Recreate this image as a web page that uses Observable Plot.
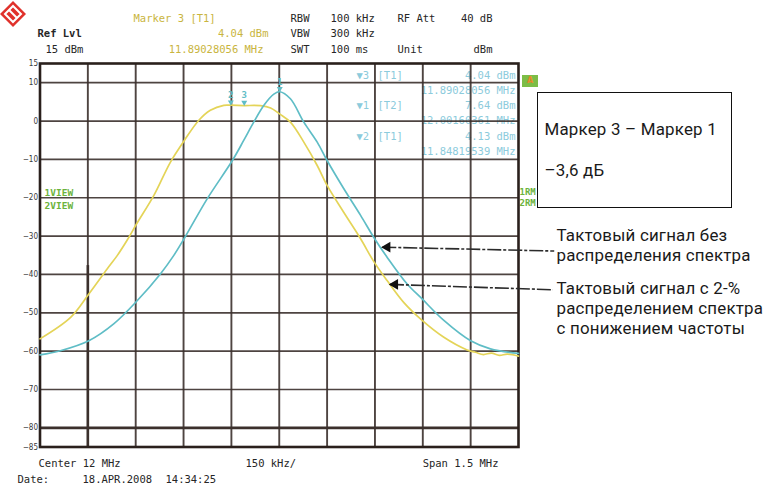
<!DOCTYPE html>
<html><head><meta charset="utf-8">
<script src="https://cdn.jsdelivr.net/npm/d3@7"></script>
<script src="https://cdn.jsdelivr.net/npm/@observablehq/plot@0.6"></script>
<style>
body{margin:0;background:#fff;}
#wrap{position:relative;width:767px;height:484px;overflow:hidden;background:#fff;}
#wrap > svg{position:absolute;left:0;top:0;}
.box{position:absolute;left:537px;top:92px;width:193px;height:114px;border:1.6px solid #111;background:transparent;}
.flag{position:absolute;left:522px;top:75px;width:16px;height:12px;background:#7cbd46;color:#e8892a;font:bold 8px "DejaVu Sans";text-align:center;line-height:12px;}
.logo{position:absolute;left:6px;top:14px;}
</style></head><body><div id="wrap"></div>
<script>
// ---- data (frequency in MHz, level in dBm) ----
const yellowFreq = [11.25, 11.346, 11.403, 11.461, 11.492, 11.523, 11.553, 11.607, 11.659, 11.703, 11.748, 11.784, 11.826, 11.848, 11.889, 11.941, 11.973, 12.002, 12.035, 12.077, 12.119, 12.150, 12.202, 12.255, 12.296, 12.338, 12.390, 12.448, 12.516, 12.589, 12.615, 12.640, 12.665, 12.690, 12.715, 12.75];
const yellowDbm  = [-56.8, -51.2, -45.1, -38.5, -35.1, -31.1, -26.8, -19.4, -10.7, -5.0, 0.2, 2.8, 4.1, 4.13, 4.04, 4.0, 3.4, 1.8, -0.3, -5.5, -11.6, -16.8, -23.8, -30.7, -36.6, -41.6, -47.3, -52.0, -56.4, -59.7, -60.3, -60.9, -60.5, -61.1, -60.8, -61.3];
const cyanFreq = [11.25, 11.314, 11.403, 11.481, 11.553, 11.628, 11.669, 11.703, 11.774, 11.853, 11.889, 11.920, 11.952, 11.983, 12.0016, 12.035, 12.077, 12.119, 12.150, 12.202, 12.255, 12.296, 12.338, 12.401, 12.448, 12.516, 12.600, 12.662, 12.75];
const cyanDbm  = [-61.0, -59.9, -57.3, -52.9, -47.0, -39.8, -35.1, -30.5, -20.3, -10.3, -5.0, -0.3, 4.1, 7.0, 7.64, 5.8, -0.3, -5.5, -10.3, -17.6, -24.6, -30.3, -35.5, -42.5, -46.4, -52.0, -57.3, -59.4, -60.6];

const markerNames = ["1", "2", "3"];
const markerFreq  = [12.0016, 11.8482, 11.8903];
const markerDbm   = [7.64, 4.13, 4.04];

const yTicks = [15, 10, 0, -10, -20, -30, -40, -50, -60, -70, -80, -85];
const hGrid  = [10, 0, -10, -20, -30, -40, -50, -60, -70, -80];
const vGrid  = [11.40, 11.55, 11.70, 11.85, 12.00, 12.15, 12.30, 12.45, 12.60];

// annotation arrows (head -> tail), in chart coordinates
const arrowHeadF  = [12.323, 12.347];
const arrowHeadDb = [-32.9, -42.6];
const arrowTailF  = [12.862, 12.858];
const arrowTailDb = [-33.9, -44.0];

// instrument text
const headerRows = [
  ["Marker 3 [T1]", "RBW", "100 kHz", "RF Att", "40 dB"],
  ["4.04 dBm", "VBW", "300 kHz", "", ""],
  ["11.89028056 MHz", "SWT", "100 ms", "Unit", "dBm"]
];
const tableLeft  = ["\u25BC3", "", "\u25BC1", "", "\u25BC2", ""];
const tableTrace = ["[T1]", "", "[T2]", "", "[T1]", ""];
const tableRight = ["4.04 dBm", "11.89028056 MHz", "7.64 dBm", "12.00160361 MHz", "4.13 dBm", "11.84819539 MHz"];

// annotation texts
const boxLine1 = "Маркер 3 – Маркер 1";
const boxLine2 = "–3,6 дБ";
const note1 = "Тактовый сигнал без\nраспределения спектра";
const note2 = "Тактовый сигнал с 2-%\nраспределением спектра\nс понижением частоты";

const W = 767, H = 484, ML = 39.5, MR = 249, MT = 63, MB = 37.5;
const mono = "DejaVu Sans Mono";
const yellow = "#e4d458", cyan = "#5fbdc6", grid = "#3b302c";
const yel2 = "#c9b53e", cyanTxt = "#8ccbdc", green = "#6cb33c";
const NS = 16.9;

function label(t, x, y, o = {}) {
  return Plot.text([t], {
    text: d => d, frameAnchor: "top-left", dx: x - ML, dy: y - MT,
    textAnchor: o.anchor || "start", lineAnchor: o.line || "middle",
    lineHeight: o.lineHeight || 1,
    fill: o.fill || "#262626", fontSize: o.size || 10.5,
    fontFamily: o.font || mono, fontWeight: o.weight || "normal"
  });
}
const sans = {font: "Roboto", size: NS, line: "top", lineHeight: 20 / NS, fill: "#1a1a1a"};
// with lineAnchor "top", first baseline sits ~0.71em below y
const base = (b) => b - 0.71 * NS;

const rowY = [18, 33.5, 49.5];
const headerMarks = [];
headerRows.forEach((r, i) => {
  if (r[0]) headerMarks.push(label(r[0], i === 0 ? 133 : (i === 1 ? 268 : 263), rowY[i], {fill: yel2, anchor: i === 0 ? "start" : "end"}));
  headerMarks.push(label(r[1], 290, rowY[i]));
  headerMarks.push(label(r[2], 330, rowY[i]));
  if (r[3]) headerMarks.push(label(r[3], 397, rowY[i]));
  if (r[4]) headerMarks.push(label(r[4], 492, rowY[i], {anchor: "end"}));
});
headerMarks.push(label("Ref Lvl", 37, rowY[1], {weight: "bold"}));
headerMarks.push(label("15 dBm", 45, rowY[2]));

const tRowY = [75.5, 90.5, 105.5, 120.5, 136, 151.5];
const tableMarks = [];
tRowY.forEach((y, i) => {
  if (tableLeft[i]) tableMarks.push(label(tableLeft[i], 356, y, {fill: cyanTxt}));
  if (tableTrace[i]) tableMarks.push(label(tableTrace[i], 377, y, {fill: cyanTxt}));
  tableMarks.push(label(tableRight[i], 515, y, {fill: cyanTxt, anchor: "end"}));
});

const footerMarks = [
  label("Center 12 MHz", 38, 463),
  label("150 kHz/", 245, 463),
  label("Span 1.5 MHz", 498, 463, {anchor: "end"}),
  label("Date:", 17, 479),
  label("18.APR.2008", 82, 479),
  label("14:34:25", 165, 479)
];

const noteMarks = [
  label(boxLine1, 544, base(132.7), sans),
  label(boxLine2, 544, base(173.3), sans),
  label(note1, 556, base(238), sans),
  label(note2, 556, base(291.5), sans)
];

const idx = (a) => a.map((_, i) => i);

const chart = Plot.plot({
  width: W, height: H,
  marginLeft: ML, marginRight: MR, marginTop: MT, marginBottom: MB,
  x: {domain: [11.25, 12.75], axis: null},
  y: {domain: [-85, 15], axis: null},
  style: {background: "transparent", overflow: "visible"},
  marks: [
    ...tableMarks,
    label("1VIEW", 44, 192, {fill: green, size: 9.5, weight: "bold"}),
    label("2VIEW", 44, 205, {fill: green, size: 9.5, weight: "bold"}),
    label("1RM", 519, 192, {fill: green, size: 9, weight: "bold"}),
    label("2RM", 519, 203, {fill: green, size: 9, weight: "bold"}),
    Plot.ruleY(hGrid, {stroke: grid, strokeWidth: 1.7, strokeOpacity: 0.9}),
    Plot.ruleX(vGrid, {stroke: grid, strokeWidth: 1.9, strokeOpacity: 0.9}),
    Plot.ruleY([-80], {stroke: grid, strokeWidth: 2.6}),
    Plot.ruleX([11.40], {y1: -37.7, y2: -85, stroke: grid, strokeWidth: 2.6}),
    Plot.frame({stroke: "#2a201c", strokeWidth: 2.6}),
    Plot.axisY(yTicks, {tickSize: 0, tickPadding: 2, fontSize: 8, fill: "#3a3a3a", fontFamily: "DejaVu Sans Condensed", label: null}),
    Plot.line(idx(yellowFreq), {x: i => yellowFreq[i], y: i => yellowDbm[i], stroke: yellow, strokeWidth: 1.7, curve: "catmull-rom"}),
    Plot.line(idx(cyanFreq), {x: i => cyanFreq[i], y: i => cyanDbm[i], stroke: cyan, strokeWidth: 1.7, curve: "catmull-rom"}),
    Plot.dot(idx(markerFreq), {x: i => markerFreq[i], y: i => markerDbm[i], symbol: "triangle", rotate: 180, r: 2.2, fill: cyan, dy: -3}),
    Plot.text(idx(markerFreq), {x: i => markerFreq[i], y: i => markerDbm[i], text: i => markerNames[i], dy: -10, fill: cyan, fontSize: 9, fontFamily: mono, fontWeight: "bold"}),
    Plot.link(idx(arrowHeadF), {x1: i => arrowHeadF[i], y1: i => arrowHeadDb[i], x2: i => arrowTailF[i], y2: i => arrowTailDb[i], stroke: "#2b2b2b", strokeWidth: 1.6, strokeDasharray: "14,2,3,2"}),
    Plot.dot(idx(arrowHeadF), {x: i => arrowHeadF[i], y: i => arrowHeadDb[i], symbol: "triangle", rotate: -90, r: 4, fill: "#111", dx: 5}),
    ...headerMarks,
    ...footerMarks,
    ...noteMarks
  ]
});

// slightly widen the annotation lettering to match the reference width
d3.select(chart).selectAll('g[font-family="Roboto"]').attr("letter-spacing", "0.2px");

const wrap = document.getElementById("wrap");
wrap.appendChild(chart);

// R&S style logo, status flag and annotation box outline
wrap.insertAdjacentHTML("beforeend", `
<svg class="logo" width="30" height="30" viewBox="0 0 30 30">
  <polygon points="13,1 26,14 13,27 0,14" fill="#e0312b"/>
  <polygon points="13,6 21,14 13,22 5,14" fill="none" stroke="#fff" stroke-width="2"/>
  <line x1="9" y1="10" x2="17" y2="18" stroke="#fff" stroke-width="2"/>
</svg>
<div class="flag">A</div>
<div class="box"></div>
`);
</script></body></html>
